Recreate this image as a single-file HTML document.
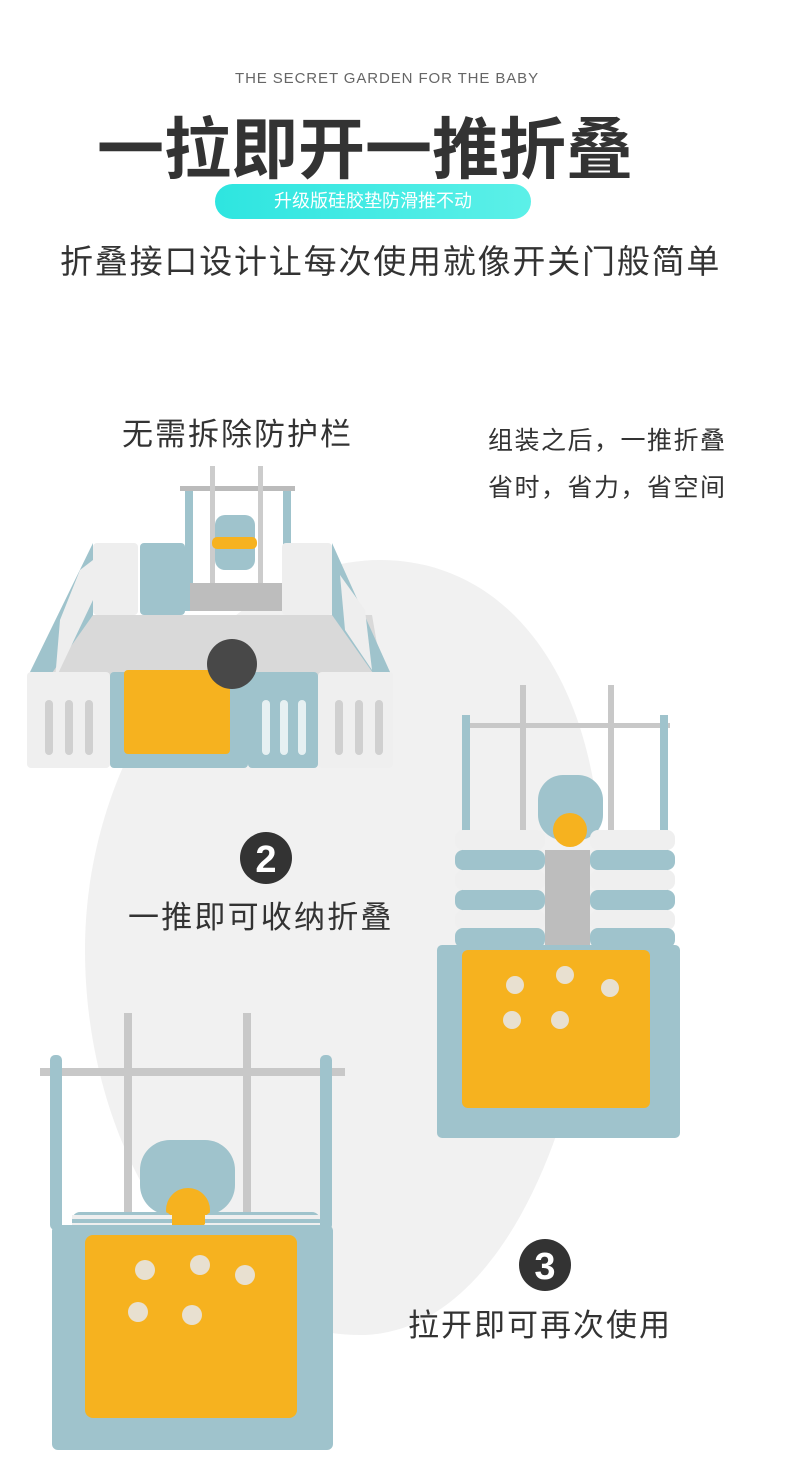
<!DOCTYPE html>
<html><head><meta charset="utf-8"><style>
body{margin:0;width:790px;height:1480px;background:#fff;position:relative;overflow:hidden;font-family:"Liberation Sans","Noto Sans CJK SC",sans-serif;color:#333}
.t{position:absolute;white-space:nowrap}
</style></head><body>
<svg width="790" height="1480" style="position:absolute;left:0;top:0">
<path d="M380 560 C520 560 610 700 600 900 C590 1120 500 1335 360 1335 C200 1335 85 1150 85 950 C85 740 230 560 380 560Z" fill="#f1f1f1"/>
<polygon points="65,615 372,615 385,690 40,690" fill="#d9d9d9"/>
<rect x="185" y="486" width="8" height="125" fill="#9fc3cc"/><rect x="283" y="486" width="8" height="125" fill="#9fc3cc"/>
<rect x="180" y="486" width="115" height="5" fill="#bbb"/>
<rect x="210" y="466" width="5" height="130" fill="#ccc"/><rect x="258" y="466" width="5" height="130" fill="#ccc"/>
<rect x="215" y="515" width="40" height="55" rx="10" fill="#9fc3cc"/>
<rect x="212" y="537" width="45" height="12" rx="5" fill="#f6b21f"/>
<rect x="190" y="583" width="100" height="28" fill="#bdbdbd"/>
<rect x="93" y="543" width="45" height="72" rx="4" fill="#eeeeee"/>
<rect x="140" y="543" width="45" height="72" rx="4" fill="#9fc3cc"/>
<rect x="282" y="543" width="50" height="72" rx="4" fill="#eeeeee"/>
<polygon points="30,672 93,543 93,615 40,690" fill="#9fc3cc"/>
<polygon points="60,620 80,570 93,560 93,600 55,680" fill="#eeeeee"/>
<polygon points="332,543 390,672 385,690 332,615" fill="#9fc3cc"/>
<polygon points="340,575 365,610 372,670 345,630" fill="#eeeeee"/>
<rect x="27" y="672" width="83" height="96" rx="4" fill="#efefef"/>
<rect x="110" y="672" width="138" height="96" rx="4" fill="#9fc3cc"/>
<rect x="124" y="670" width="106" height="84" rx="4" fill="#f6b21f"/>
<rect x="248" y="672" width="70" height="96" rx="4" fill="#9fc3cc"/>
<rect x="318" y="672" width="75" height="96" rx="4" fill="#efefef"/>
<g fill="#d0d0d0"><rect x="45" y="700" width="8" height="55" rx="4"/><rect x="65" y="700" width="8" height="55" rx="4"/><rect x="85" y="700" width="8" height="55" rx="4"/><rect x="335" y="700" width="8" height="55" rx="4"/><rect x="355" y="700" width="8" height="55" rx="4"/><rect x="375" y="700" width="8" height="55" rx="4"/></g>
<g fill="#e6f0f2"><rect x="262" y="700" width="8" height="55" rx="4"/><rect x="280" y="700" width="8" height="55" rx="4"/><rect x="298" y="700" width="8" height="55" rx="4"/></g>
<circle cx="232" cy="664" r="25" fill="#484848"/>
<rect x="465" y="723" width="205" height="5" fill="#c8c8c8"/>
<rect x="462" y="715" width="8" height="235" fill="#9fc3cc"/><rect x="660" y="715" width="8" height="235" fill="#9fc3cc"/>
<rect x="520" y="685" width="6" height="150" fill="#c8c8c8"/><rect x="608" y="685" width="6" height="150" fill="#c8c8c8"/>
<rect x="538" y="775" width="65" height="65" rx="25" fill="#9fc3cc"/>
<circle cx="570" cy="830" r="17" fill="#f6b21f"/>
<g>
<rect x="455" y="830" width="90" height="20" rx="8" fill="#efefef"/><rect x="590" y="830" width="85" height="20" rx="8" fill="#efefef"/>
<rect x="455" y="850" width="90" height="20" rx="8" fill="#9fc3cc"/><rect x="590" y="850" width="85" height="20" rx="8" fill="#9fc3cc"/>
<rect x="455" y="870" width="90" height="20" rx="8" fill="#efefef"/><rect x="590" y="870" width="85" height="20" rx="8" fill="#efefef"/>
<rect x="455" y="890" width="90" height="20" rx="8" fill="#9fc3cc"/><rect x="590" y="890" width="85" height="20" rx="8" fill="#9fc3cc"/>
<rect x="455" y="910" width="90" height="20" rx="8" fill="#efefef"/><rect x="590" y="910" width="85" height="20" rx="8" fill="#efefef"/>
<rect x="455" y="928" width="90" height="20" rx="8" fill="#9fc3cc"/><rect x="590" y="928" width="85" height="20" rx="8" fill="#9fc3cc"/>
<rect x="545" y="850" width="45" height="95" fill="#bdbdbd"/>
</g>
<rect x="437" y="945" width="243" height="193" rx="5" fill="#9fc3cc"/>
<rect x="462" y="950" width="188" height="158" rx="6" fill="#f6b21f"/>
<g fill="#e8e0d0"><circle cx="515" cy="985" r="9"/><circle cx="565" cy="975" r="9"/><circle cx="610" cy="988" r="9"/><circle cx="512" cy="1020" r="9"/><circle cx="560" cy="1020" r="9"/></g>
<rect x="40" y="1068" width="305" height="8" fill="#c8c8c8"/>
<rect x="50" y="1055" width="12" height="175" rx="5" fill="#9fc3cc"/><rect x="320" y="1055" width="12" height="175" rx="5" fill="#9fc3cc"/>
<rect x="124" y="1013" width="8" height="200" fill="#c8c8c8"/><rect x="243" y="1013" width="8" height="200" fill="#c8c8c8"/>
<rect x="140" y="1140" width="95" height="75" rx="30" fill="#9fc3cc"/>
<circle cx="188" cy="1210" r="22" fill="#f6b21f"/>
<g><rect x="72" y="1212" width="100" height="26" rx="8" fill="#9fc3cc"/><rect x="205" y="1212" width="115" height="26" rx="8" fill="#9fc3cc"/>
<g fill="#efefef"><rect x="72" y="1215" width="100" height="4"/><rect x="72" y="1223" width="100" height="4"/><rect x="205" y="1215" width="115" height="4"/><rect x="205" y="1223" width="115" height="4"/></g></g>
<rect x="52" y="1225" width="281" height="225" rx="6" fill="#9fc3cc"/>
<rect x="85" y="1235" width="212" height="183" rx="8" fill="#f6b21f"/>
<g fill="#e8e0d0"><circle cx="145" cy="1270" r="10"/><circle cx="200" cy="1265" r="10"/><circle cx="245" cy="1275" r="10"/><circle cx="138" cy="1312" r="10"/><circle cx="192" cy="1315" r="10"/></g>
<circle cx="266" cy="858" r="26" fill="#333"/><text x="266" y="872" font-size="38" font-weight="bold" fill="#fff" text-anchor="middle" font-family="Liberation Sans">2</text>
<circle cx="545" cy="1265" r="26" fill="#333"/><text x="545" y="1279" font-size="38" font-weight="bold" fill="#fff" text-anchor="middle" font-family="Liberation Sans">3</text>
</svg>
<div class="t" style="left:235px;top:70px;font-size:15px;color:#666;letter-spacing:0.9px">THE SECRET GARDEN FOR THE BABY</div>
<div class="t" style="left:97px;top:96px;font-size:67px;font-weight:bold;color:#333">一拉即开一推折叠</div>
<div class="t" style="left:215px;top:184px;width:316px;height:35px;border-radius:18px;background:linear-gradient(90deg,#2ee5e0,#5cf0e8);color:#fff;font-size:18px;line-height:35px;text-align:center">升级版硅胶垫防滑推不动</div>
<div class="t" style="left:60px;top:235px;font-size:33px;letter-spacing:1.8px">折叠接口设计让每次使用就像开关门般简单</div>
<div class="t" style="left:122px;top:409px;font-size:31px;letter-spacing:2px">无需拆除防护栏</div>
<div class="t" style="left:488px;top:418px;font-size:25px;line-height:47px;letter-spacing:1.5px">组装之后，一推折叠<br>省时，省力，省空间</div>
<div class="t" style="left:128px;top:892px;font-size:31px;letter-spacing:2.2px">一推即可收纳折叠</div>
<div class="t" style="left:408px;top:1300px;font-size:31px;letter-spacing:2px">拉开即可再次使用</div>
</body></html>
